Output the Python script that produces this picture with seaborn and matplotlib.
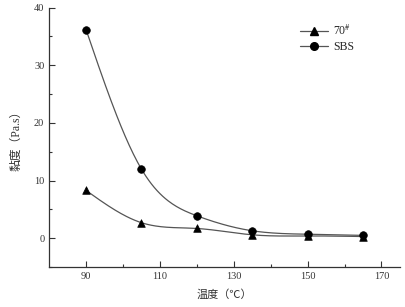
import matplotlib
matplotlib.use("Agg")
import matplotlib.pyplot as plt
from matplotlib.lines import Line2D
import numpy as np
import pandas as pd
import seaborn as sns

sns.set_theme(style="ticks")
plt.rcParams['font.family'] = ['Liberation Serif', 'Noto Sans CJK SC']
plt.rcParams['mathtext.fontset'] = 'stix'

# дані з графіка
temps = [90, 105, 120, 135, 150, 165]
visc_70 = [8.3, 2.7, 1.7, 0.6, 0.4, 0.3]
visc_sbs = [36.2, 12.0, 3.9, 1.3, 0.7, 0.5]
labels = ['70$^{\\#}$', 'SBS']


def spline(x, y, n=200):
    # natural cubic spline для гладкої лінії
    x = np.asarray(x, float); y = np.asarray(y, float)
    h = np.diff(x)
    k = len(x)
    A = np.zeros((k, k)); b = np.zeros(k)
    A[0, 0] = A[-1, -1] = 1
    for i in range(1, k - 1):
        A[i, i - 1] = h[i - 1]; A[i, i] = 2 * (h[i - 1] + h[i]); A[i, i + 1] = h[i]
        b[i] = 6 * ((y[i + 1] - y[i]) / h[i] - (y[i] - y[i - 1]) / h[i - 1])
    m = np.linalg.solve(A, b)
    xs = np.linspace(x[0], x[-1], n)
    j = np.clip(np.searchsorted(x, xs) - 1, 0, k - 2)
    t0 = x[j + 1] - xs; t1 = xs - x[j]
    ys = (m[j] * t0 ** 3 + m[j + 1] * t1 ** 3) / (6 * h[j]) \
        + (y[j] / h[j] - m[j] * h[j] / 6) * t0 + (y[j + 1] / h[j] - m[j + 1] * h[j] / 6) * t1
    return xs, ys


fig = plt.figure(figsize=(4.06, 3.07), dpi=100)
ax = fig.add_axes([0.121, 0.130, 0.864, 0.845])

handles = []
for vals, mk, lab in [(visc_70, '^', labels[0]), (visc_sbs, 'o', labels[1])]:
    xs, ys = spline(temps, vals)
    sns.lineplot(x=xs, y=ys, ax=ax, color='#555555', linewidth=0.9, legend=False)
    df = pd.DataFrame({'T': temps, 'V': vals})
    sns.scatterplot(data=df, x='T', y='V', ax=ax, marker=mk, color='black', s=30,
                    edgecolor='black', linewidth=0.5, legend=False, zorder=3)
    handles.append(Line2D([], [], color='#555555', linewidth=0.9, marker=mk,
                          markerfacecolor='black', markeredgecolor='black', markersize=5.5, label=lab))

ax.set_xlim(80, 175)
ax.set_ylim(-5, 40)
ax.set_xticks([90, 110, 130, 150, 170])
ax.set_xticks([100, 120, 140, 160], minor=True)
ax.set_yticks([0, 10, 20, 30, 40])
ax.set_yticks([-5, 5, 15, 25, 35], minor=True)
ax.tick_params(which='both', direction='in', labelsize=7.5, width=0.8, colors='#333333')
ax.tick_params(which='major', length=4)
ax.tick_params(which='minor', length=2)
for sp in ['top', 'right']:
    ax.spines[sp].set_visible(False)
for sp in ['left', 'bottom']:
    ax.spines[sp].set_linewidth(0.9)
    ax.spines[sp].set_color('#333333')

ax.set_xlabel('温度（℃）', fontsize=8, color='#333333', labelpad=6)
ax.set_ylabel('黏度（Pa.s）', fontsize=8.5, color='#333333', labelpad=8)

ax.legend(handles=handles, loc='upper right', bbox_to_anchor=(0.90, 0.98), frameon=False,
          fontsize=8.5, handlelength=2.4, labelspacing=0.3, handletextpad=0.4)

fig.savefig('out.png', dpi=100)
